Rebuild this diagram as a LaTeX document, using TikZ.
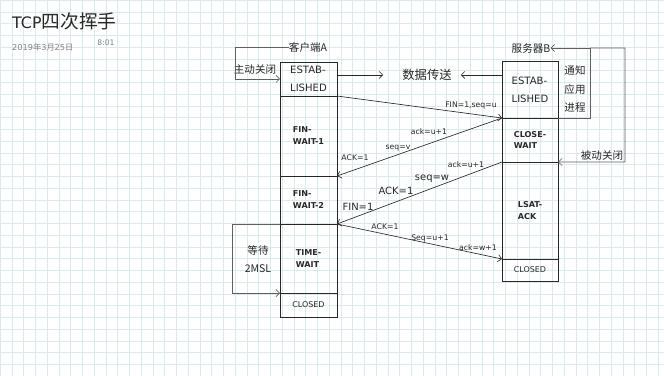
\documentclass[tikz,border=0pt]{standalone}
\usepackage{fontspec}
\setmainfont{DejaVu Sans}
\newfontfamily\cjk{Noto Sans CJK SC}
\usetikzlibrary{arrows.meta,positioning}
\definecolor{gridc}{RGB}{218,234,238}
\definecolor{inkc}{RGB}{40,40,40}
\definecolor{loopc}{RGB}{95,95,95}
\definecolor{datec}{RGB}{130,130,130}

\begin{document}
\begin{tikzpicture}[x=0.03cm, y=-0.03cm,
  statebox/.style={draw=inkc, line width=0.6pt, outer sep=0pt, inner sep=1pt, align=left, text=inkc, font=\fontsize{8.6}{15.4}\selectfont},
  boldbox/.style={statebox, font=\fontsize{6.9}{10.2}\selectfont\bfseries},
  endbox/.style={statebox, font=\fontsize{6.8}{8}\selectfont},
  openhead/.style={-{Straight Barb[length=3pt,width=6pt]}},
  msg/.style={draw=inkc, line width=0.55pt, openhead},
  sideline/.style={draw=loopc, line width=0.6pt, openhead},
  lblsmall/.style={inner sep=0pt, text=inkc, font=\fontsize{6.6}{8}\selectfont},
  lblbig/.style={inner sep=0pt, text=inkc, font=\fontsize{8.5}{10}\selectfont},
  zh/.style={inner sep=0pt, align=center, text=inkc, font=\cjk\fontsize{9}{15.8}\selectfont}
]
\fill[white] (0,0) rectangle (664,376);
\useasboundingbox (0,0) rectangle (664,376);
% grid
\foreach \i in {0,...,56} \draw[gridc, line width=0.35pt] (\i*11.75,0) -- (\i*11.75,376);
\foreach \j in {0,...,32} \draw[gridc, line width=0.35pt] (0,\j*11.75) -- (664,\j*11.75);

% title
\node[anchor=west, inner sep=0pt, text=inkc, font=\fontsize{13.5}{16}\selectfont] (title) at (12,21) {TCP{\cjk\fontsize{16}{18}\selectfont 四次挥手}};
\node[anchor=west, inner sep=0pt, text=datec, font=\fontsize{7}{8}\selectfont] (date) at (12,47) {2019{\cjk 年}3{\cjk 月}25{\cjk 日}};
\node[inner sep=0pt, text=datec, font=\fontsize{6.5}{8}\selectfont] (time) at (106,43) {8:01};

% client A
\node[statebox, minimum width=1.71cm, minimum height=1.02cm] (cA1) at (308.5,79) {ESTAB-\\LISHED};
\node[boldbox, minimum width=1.71cm, minimum height=2.4cm, below=0pt of cA1] (cA2) {FIN-\\WAIT-1};
\node[boldbox, minimum width=1.71cm, minimum height=1.44cm, below=0pt of cA2] (cA3) {FIN-\\WAIT-2};
\node[boldbox, minimum width=1.71cm, minimum height=2.07cm, below=0pt of cA3] (cA4) {TIME-\\WAIT};
\node[endbox, minimum width=1.71cm, minimum height=0.72cm, below=0pt of cA4] (cA5) {CLOSED};

% server B
\node[statebox, minimum width=1.68cm, minimum height=1.71cm] (sB1) at (530,89.5) {ESTAB-\\LISHED};
\node[boldbox, minimum width=1.68cm, minimum height=1.32cm, below=0pt of sB1] (sB2) {CLOSE-\\WAIT};
\node[boldbox, minimum width=1.68cm, minimum height=2.91cm, below=0pt of sB2] (sB3) {LSAT-\\ACK};
\node[endbox, minimum width=1.68cm, minimum height=0.66cm, below=0pt of sB3] (sB4) {CLOSED};

% side texts
\node[zh] (cA) at (308,47) {客户端A};
\node[zh] (sB) at (531,48) {服务器B};
\node[zh] (act) at (255,70) {主动关闭};
\node[zh] (wait) at (258,259) {等待\\2MSL};
\node[zh] (notify) at (575,89) {通知\\应用\\进程};
\node[zh] (pas) at (602,155) {被动关闭};
\node[zh, font=\cjk\fontsize{10.5}{12}\selectfont] (data) at (427,75) {数据传送};

% data transfer
\draw[msg] (cA1.east |- data) -- ([xshift=-0.57cm]data.west);
\draw[msg] (sB1.west |- data) -- ([xshift=0.27cm]data.east);

% four segments
\draw[msg] (cA1.south east) -- (sB1.south west);
\draw[msg] (sB2.north west) -- (cA2.south east);
\draw[msg] (sB2.south west) -- (cA3.south east);
\draw[msg] (cA4.north east) -- (sB3.south west);

\node[lblsmall] (f1) at (471,105) {FIN=1,seq=u};
\node[lblsmall] (a1) at (429,132) {ack=u+1};
\node[lblsmall] (s1) at (398,148) {seq=v};
\node[lblsmall] (k1) at (355,158) {ACK=1};
\node[lblsmall] (a2) at (466,165) {ack=u+1};
\node[lblbig] (s2) at (432,179) {seq=w};
\node[lblbig] (k2) at (396,191) {ACK=1};
\node[lblbig] (f2) at (358,207) {FIN=1};
\node[lblsmall] (k3) at (385,227) {ACK=1};
\node[lblsmall] (s3) at (430,238) {Seq=u+1};
\node[lblsmall] (a3) at (478,248) {ack=w+1};

% loops
\draw[sideline] (cA.west) -- (235,47) |- (cA1.west);
\draw[sideline] (cA4.north west) -- ++(-48,0) |- (cA4.south west);
\coordinate (jn) at (590,48);
\draw[sideline] (sB1.south east) -| (jn) -- (sB.east);
\draw[sideline] (jn) -| (625,162) -- (sB2.south east);
\end{tikzpicture}
\end{document}
